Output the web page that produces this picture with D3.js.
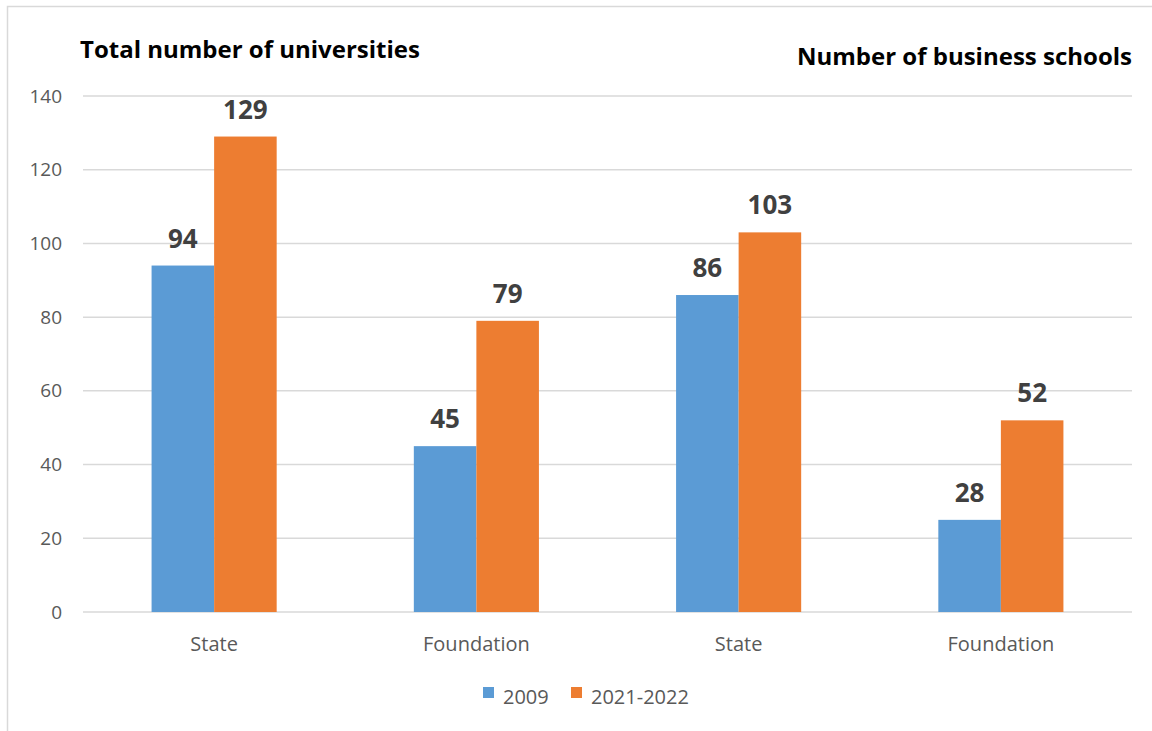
<!DOCTYPE html>
<html>
<head>
<meta charset="utf-8">
<script src="https://cdn.jsdelivr.net/npm/d3@7"></script>
<style>
  body { margin: 0; background: #fff; }
  svg { display: block; font-family: "Open Sans", "Noto Sans", sans-serif; }
</style>
</head>
<body>
<svg id="chart" width="1152" height="731"></svg>
<script>
var categories = ['State', 'Foundation', 'State', 'Foundation'];
var seriesNames = ['2009', '2021-2022'];
var values2009 = [94, 45, 86, 25];
var values2021 = [129, 79, 103, 52];
// the picture labels the last blue bar "28" although it is drawn at 25
var labels2009 = ['94', '45', '86', '28'];
var labels2021 = ['129', '79', '103', '52'];
var yTicks = [0, 20, 40, 60, 80, 100, 120, 140];
var colors = ['#5B9BD5', '#ED7D31'];

var svg = d3.select('#chart');

// outer frame
svg.append('rect')
  .attr('x', 7.5).attr('y', 6.5)
  .attr('width', 1170).attr('height', 760)
  .attr('fill', 'none')
  .attr('stroke', '#d9d9d9')
  .attr('stroke-width', 1.5);

var plotLeft = 83, plotRight = 1132, plotTop = 96, plotBottom = 612;

var y = d3.scaleLinear().domain([0, 140]).range([plotBottom, plotTop]);
var x0 = d3.scaleBand().domain(d3.range(categories.length))
  .range([plotLeft, plotRight]).paddingInner(0.523).paddingOuter(0.2615);
var x1 = d3.scaleBand().domain(d3.range(seriesNames.length))
  .range([0, x0.bandwidth()]);

// gridlines
svg.append('g').selectAll('line')
  .data(yTicks)
  .join('line')
  .attr('x1', plotLeft).attr('x2', plotRight)
  .attr('y1', d => y(d)).attr('y2', d => y(d))
  .attr('stroke', '#d9d9d9')
  .attr('stroke-width', 1.5);

// y axis labels
var yAxis = d3.axisLeft(y).tickValues(yTicks).tickSize(0).tickPadding(0);
svg.append('g')
  .attr('transform', 'translate(62,0)')
  .call(yAxis)
  .call(g => g.select('.domain').remove())
  .selectAll('text')
  .attr('fill', '#595959')
  .style('font-size', '19px')
  .style('font-family', '"Open Sans", sans-serif');

// x axis labels
var xAxis = d3.axisBottom(x0).tickFormat(i => categories[i]).tickSize(0).tickPadding(0);
svg.append('g')
  .attr('transform', 'translate(0,' + (plotBottom + 39) + ')')
  .call(xAxis)
  .call(g => g.select('.domain').remove())
  .selectAll('text')
  .attr('dy', 0)
  .attr('fill', '#595959')
  .style('font-size', '20px')
  .style('font-family', '"Open Sans", sans-serif');

var series = [
  { vals: values2009, labels: labels2009 },
  { vals: values2021, labels: labels2021 }
];

series.forEach(function(s, si) {
  var g = svg.append('g');
  g.selectAll('rect')
    .data(s.vals)
    .join('rect')
    .attr('x', (d, i) => x0(i) + x1(si))
    .attr('y', d => y(d))
    .attr('width', x1.bandwidth())
    .attr('height', d => plotBottom - y(d))
    .attr('fill', colors[si]);

  g.selectAll('text')
    .data(s.vals)
    .join('text')
    .attr('x', (d, i) => x0(i) + x1(si) + x1.bandwidth() / 2)
    .attr('y', d => y(d) - 18)
    .attr('text-anchor', 'middle')
    .attr('fill', '#404040')
    .style('font-size', '26px')
    .style('font-weight', 'bold')
    .text((d, i) => s.labels[i]);
});

// titles
svg.append('text')
  .attr('x', 80).attr('y', 58)
  .attr('fill', '#000')
  .style('font-size', '24px')
  .style('font-weight', 'bold')
  .text('Total number of universities');

svg.append('text')
  .attr('x', 1132).attr('y', 65)
  .attr('text-anchor', 'end')
  .attr('fill', '#000')
  .style('font-size', '24px')
  .style('font-weight', 'bold')
  .text('Number of business schools');

// legend
var legendX = [483, 571];
var legend = svg.append('g').selectAll('g')
  .data(seriesNames)
  .join('g')
  .attr('transform', (d, i) => 'translate(' + legendX[i] + ',687)');
legend.append('rect')
  .attr('width', 11).attr('height', 11)
  .attr('fill', (d, i) => colors[i]);
legend.append('text')
  .attr('x', 20).attr('y', 17)
  .attr('fill', '#595959')
  .style('font-size', '20px')
  .text(d => d);
</script>
</body>
</html>
